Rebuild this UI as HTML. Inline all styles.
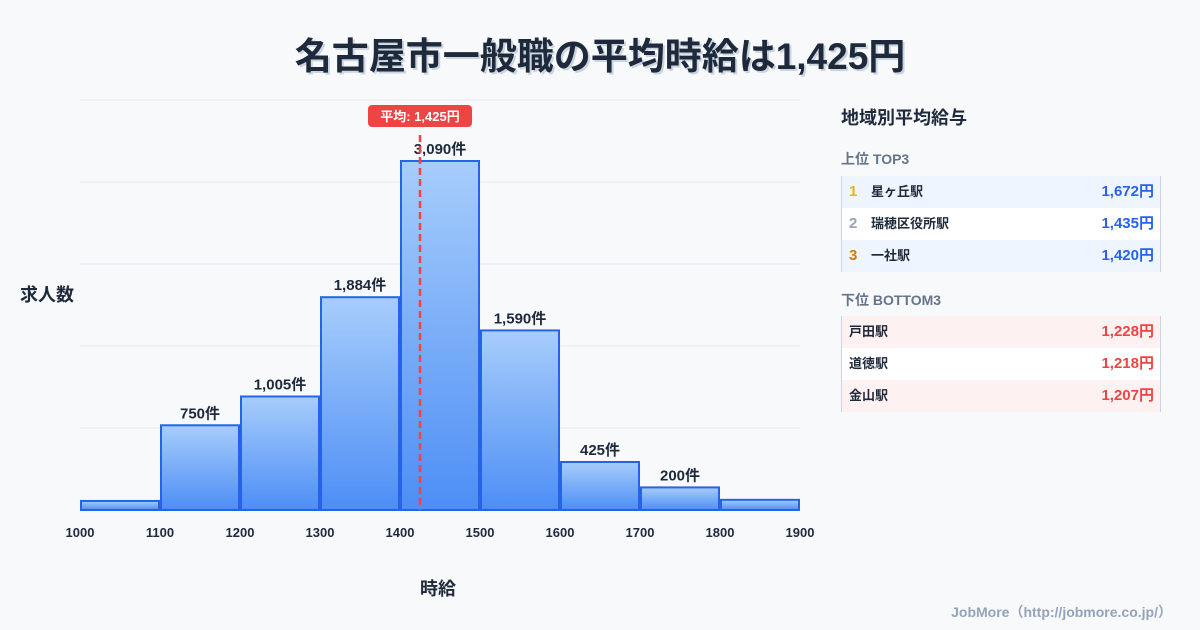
<!DOCTYPE html>
<html><head><meta charset="utf-8">
<style>
body{margin:0;width:1200px;height:630px;background:#f8f9fb;font-family:"Liberation Sans","Noto Sans CJK JP",sans-serif;position:relative;overflow:hidden;color:#1e293b}
.t{position:absolute;white-space:nowrap}
#title{left:0;width:1200px;top:26px;text-align:center;font-size:37px;font-weight:bold;color:#1e293b;text-shadow:2px 2px 0 #cbd5e1}
.row{position:absolute;left:841px;width:320px;height:32px;line-height:32px;font-size:13px;font-weight:bold;border-left:1px solid #cbd5e1;border-right:1px solid #cbd5e1;box-sizing:border-box}
.row span{position:absolute;top:0}
.row .n{font-size:15px}
.row .v{right:6px;font-size:15px}
</style></head><body>
<div id="title" class="t">名古屋市一般職の平均時給は1,425円</div>
<svg id="chart" width="1200" height="630" style="position:absolute;left:0;top:0">
<defs><linearGradient id="g" x1="0" y1="0" x2="0" y2="1"><stop offset="0" stop-color="#a7cdfb"/><stop offset="1" stop-color="#4d8ef5"/></linearGradient></defs>
</svg>
<div class="t" style="left:20px;top:281px;font-size:18px;font-weight:bold">求人数</div>
<div class="t" style="left:420px;top:575px;font-size:18px;font-weight:bold">時給</div>
<div class="t" style="left:841px;top:104px;font-size:18px;font-weight:bold">地域別平均給与</div>
<div class="t" style="left:841px;top:149px;font-size:14px;font-weight:bold;color:#64748b">上位 TOP3</div>
<div class="row" style="top:176px;background:#eef5ff"><span class="n" style="left:7px;color:#eab308">1</span><span style="left:29px">星ヶ丘駅</span><span class="v" style="color:#2563eb">1,672円</span></div>
<div class="row" style="top:208px;background:#fff"><span class="n" style="left:7px;color:#94a3b8">2</span><span style="left:29px">瑞穂区役所駅</span><span class="v" style="color:#2563eb">1,435円</span></div>
<div class="row" style="top:240px;background:#eef5ff"><span class="n" style="left:7px;color:#d97706">3</span><span style="left:29px">一社駅</span><span class="v" style="color:#2563eb">1,420円</span></div>
<div class="t" style="left:841px;top:290px;font-size:14px;font-weight:bold;color:#64748b">下位 BOTTOM3</div>
<div class="row" style="top:316px;background:#fef1f1"><span style="left:7px">戸田駅</span><span class="v" style="color:#ef4444">1,228円</span></div>
<div class="row" style="top:348px;background:#fff"><span style="left:7px">道徳駅</span><span class="v" style="color:#ef4444">1,218円</span></div>
<div class="row" style="top:380px;background:#fef1f1"><span style="left:7px">金山駅</span><span class="v" style="color:#ef4444">1,207円</span></div>
<div class="t" style="right:28px;top:602px;font-size:14px;font-weight:bold;color:#94a3b8">JobMore（http://jobmore.co.jp/）</div>
<script>
const binStarts=[1000,1100,1200,1300,1400,1500,1600,1700,1800];
const counts=[80,750,1005,1884,3090,1590,425,200,90];
const countLabels=["","750件","1,005件","1,884件","3,090件","1,590件","425件","200件",""];
const xTicks=[1000,1100,1200,1300,1400,1500,1600,1700,1800,1900];
const meanValue=1425;
const meanLabel="平均: 1,425円";
const NS="http://www.w3.org/2000/svg";
const svg=document.getElementById('chart');
const x=v=>80+(v-1000)*0.8;
const yMax=3630;
const y=v=>510-v/yMax*410;
function mk(t,a){const e=document.createElementNS(NS,t);for(const k in a)e.setAttribute(k,a[k]);svg.appendChild(e);return e;}
for(let i=0;i<=5;i++){const g=mk('line',{x1:80,x2:800,y1:510-i*82,y2:510-i*82,stroke:'#e2e5ea','stroke-width':1});

}
binStarts.forEach((b,i)=>{
const r=mk('rect',{x:x(b)+1,y:y(counts[i]),width:x(b+100)-x(b)-2,height:510-y(counts[i]),fill:'url(#g)',stroke:'#2563eb','stroke-width':2});


if(countLabels[i]){const t=mk('text',{x:(x(b)+x(b+100))/2,y:y(counts[i])-7,'text-anchor':'middle','font-size':15,'font-weight':'bold',fill:'#1e293b'});t.textContent=countLabels[i];

}
});
xTicks.forEach(v=>{const t=mk('text',{x:x(v),y:537,'text-anchor':'middle','font-size':13,'font-weight':'bold',fill:'#1e293b'});t.textContent=v;

});
const ml=mk('line',{x1:x(meanValue),x2:x(meanValue),y1:135,y2:510,stroke:'#ef4444','stroke-width':2.5,'stroke-dasharray':'7,4'});


const mb=mk('rect',{x:x(meanValue)-52,y:105,width:104,height:22,rx:4,fill:'#ef4444'});


const mt=mk('text',{x:x(meanValue),y:121,'text-anchor':'middle','font-size':13,'font-weight':'bold',fill:'#fff'});mt.textContent=meanLabel;


</script>
</body></html>
